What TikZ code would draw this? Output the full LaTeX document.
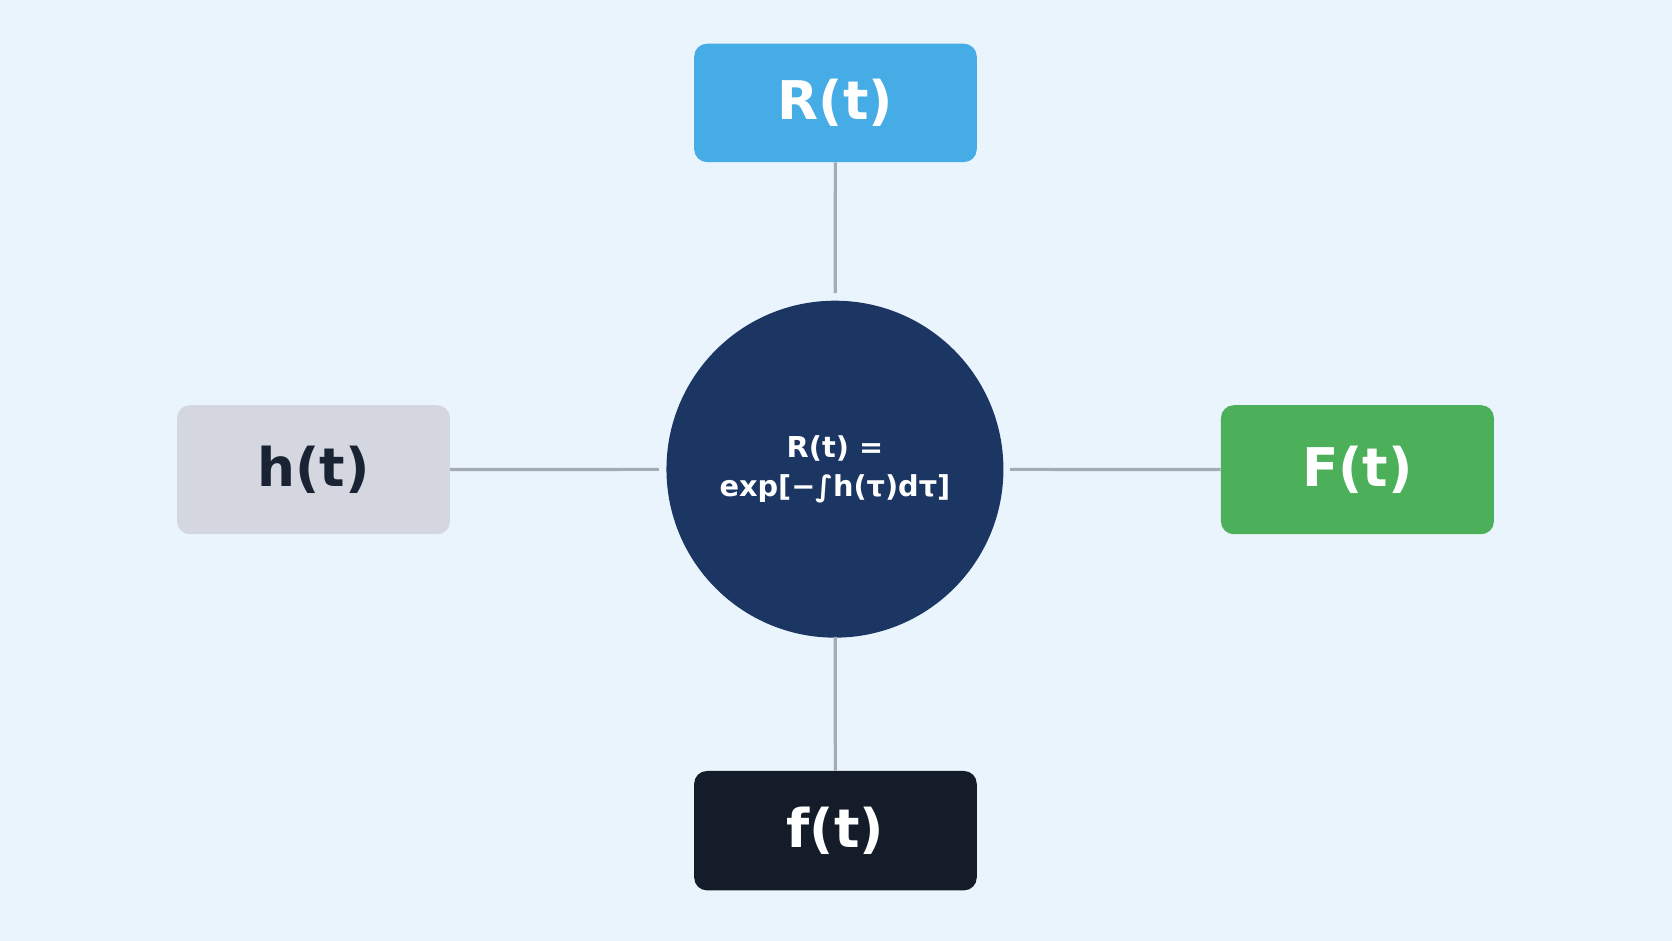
\documentclass[tikz,border=0pt]{standalone}
\usepackage{fontspec}
\setmainfont{DejaVu Sans}
\begin{document}
\definecolor{bg}{HTML}{EAF4FC}
\definecolor{cblue}{HTML}{45ACE6}
\definecolor{cgray}{HTML}{D4D6E0}
\definecolor{cgreen}{HTML}{4CAF5A}
\definecolor{cdark}{HTML}{131C28}
\definecolor{cnavy}{HTML}{1C3664}
\definecolor{cline}{HTML}{A3ABB4}
\definecolor{ctext}{HTML}{1A2333}
\begin{tikzpicture}[x=1pt,y=-1pt,
  box/.style={rounded corners=12pt,minimum width=265pt,minimum height=111pt,inner sep=0pt,font=\fontsize{50}{56}\selectfont\bfseries},
  conn/.style={draw=cline,line width=3pt}]
\fill[bg] (0,0) rectangle (1568,882);
\useasboundingbox (0,0) rectangle (1568,882);
\node[circle,fill=cnavy,minimum size=316pt,inner sep=0pt,text=white,align=center,font=\fontsize{27}{36}\selectfont\bfseries] (c) at (783,440) {R(t) =\\exp[−∫h(τ)dτ]};
\node[box,fill=cblue,text=white] (R) at (783.5,96.5) {R(t)};
\node[box,fill=cgray,text=ctext,minimum width=256pt,minimum height=121pt] (h) at (294,440.5) {h(t)};
\node[box,fill=cgreen,text=white,minimum width=256pt,minimum height=121pt] (F) at (1273,440.5) {F(t)};
\node[box,fill=cdark,text=white,minimum height=112pt] (f) at (783.5,779) {f(t)};
\draw[conn,shorten >=7pt] (R) -- (c);
\draw[conn,shorten >=-1pt] (f) -- (c);
\draw[conn,shorten >=7pt] (h) -- (c);
\draw[conn,shorten >=6pt] (F) -- (c);
\end{tikzpicture}
\end{document}
